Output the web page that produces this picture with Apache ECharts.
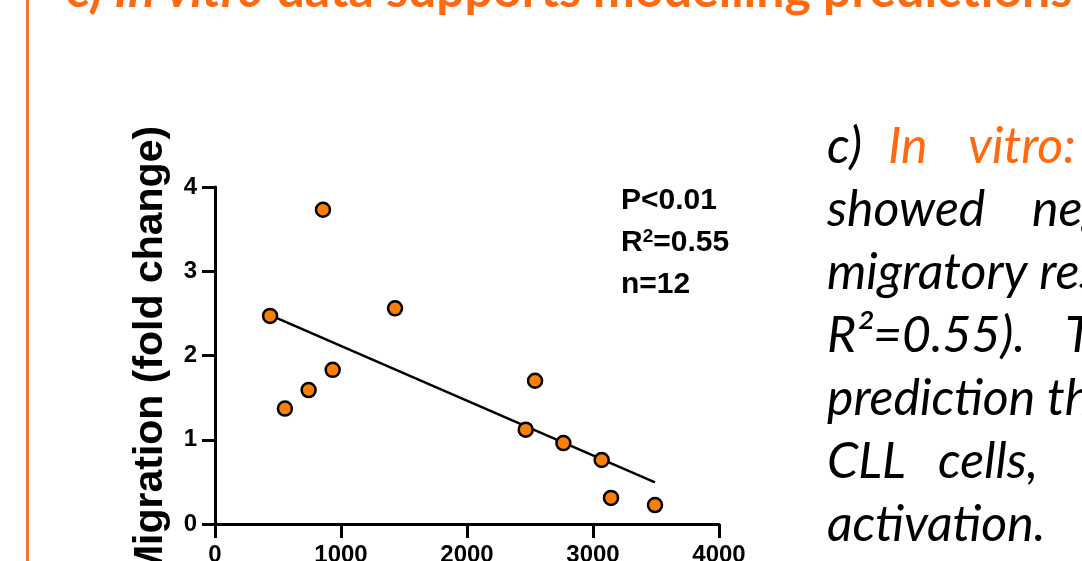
<!DOCTYPE html>
<html style="height: 100%">
    <head>
        <meta charset="utf-8">
    </head>
    <body style="height: 100%; margin: 0; background: #fff">
        <div id="container" style="width: 1082px; height: 561px"></div>

        <script type="text/javascript" src="https://cdn.jsdelivr.net/npm/echarts@6/dist/echarts.min.js"></script>
        <script type="text/javascript">
// data
var expression = [437, 857, 555, 743, 934, 1429, 2540, 2466, 2765, 3069, 3143, 3492];
var migration = [2.47, 3.73, 1.37, 1.59, 1.83, 2.56, 1.70, 1.12, 0.96, 0.76, 0.31, 0.225];
var fitX = [437, 3492];
var fitY = [2.48, 0.495];
var statLines = ['{t|P<0.01}', '{t|R}{s|2}{t|=0.55}', '{t|n=12}'];

var points = [];
for (var i = 0; i < expression.length; i++) {
    points.push([expression[i], migration[i]]);
}
var fitLine = [[fitX[0], fitY[0]], [fitX[1], fitY[1]]];

var dom = document.getElementById("container");
var myChart = echarts.init(dom);

var orange = '#FF6A10';
var bodyFont = 'Lato';
var bodySize = 50;

// paragraph on the right, one entry per word group
var words = [
    [827, 172, 'c)', '#000'], [888, 172, 'In', orange], [968, 172, 'vitro:', orange],
    [827, 235, 'showed', '#000'], [1032, 235, 'negative', '#000'],
    [827, 298, 'migratory response', '#000'],
    [827, 361, 'R\u00b2=0.55).', '#000'], [1065, 361, 'This', '#000'],
    [827, 424, 'prediction that', '#000'],
    [827, 487, 'CLL', '#000'], [938, 487, 'cells,', '#000'],
    [827, 550, 'activation.', '#000']
];

var graphics = [
    {type: 'rect', shape: {x: 26, y: 0, width: 3, height: 561}, style: {fill: '#F07A2C'}},
    {
        type: 'text', x: 65, y: 16,
        style: {
            text: '{n|c) }{i|In vitro}{n| data supports modelling predictions}',
            verticalAlign: 'bottom',
            rich: {
                n: {fontFamily: bodyFont, fontWeight: 'bold', fontSize: 50, fill: orange},
                i: {fontFamily: bodyFont, fontWeight: 'bold', fontStyle: 'italic', fontSize: 50, fill: orange}
            }
        }
    }
];
words.forEach(function (w) {
    graphics.push({
        type: 'text', x: w[0], y: w[1],
        style: {
            text: w[2], fill: w[3], fontFamily: bodyFont, fontStyle: 'italic',
            fontSize: bodySize, verticalAlign: 'bottom'
        }
    });
});
statLines.forEach(function (s, k) {
    graphics.push({
        type: 'text', x: 621, y: 217 + k * 42,
        style: {
            text: s, verticalAlign: 'bottom',
            rich: {
                t: {fill: '#000', fontFamily: 'Liberation Sans', fontWeight: 'bold', fontSize: 30, lineHeight: 32},
                s: {fill: '#000', fontFamily: 'Liberation Sans', fontWeight: 'bold', fontSize: 19, lineHeight: 32, verticalAlign: 'top'}
            }
        }
    });
});

var option = {
    animation: false,
    grid: {left: 215, top: 187, right: 363, bottom: 37, outerBoundsMode: 'none', containLabel: false},
    xAxis: {
        type: 'value', min: 0, max: 4000, interval: 1000,
        splitLine: {show: false},
        axisLine: {lineStyle: {color: '#000', width: 3}},
        axisTick: {length: 14, lineStyle: {color: '#000', width: 3}},
        axisLabel: {
            margin: 19, color: '#000', fontFamily: 'Liberation Sans', fontWeight: 'bold', fontSize: 24,
            formatter: function (v) { return String(v); }
        }
    },
    yAxis: {
        type: 'value', min: 0, max: 4, interval: 1,
        name: 'Migration (fold change)',
        nameLocation: 'middle',
        nameGap: 44,
        nameTextStyle: {color: '#000', fontFamily: 'Liberation Sans', fontWeight: 'bold', fontSize: 41, padding: [0, 0, 0, 6]},
        splitLine: {show: false},
        axisLine: {show: true, lineStyle: {color: '#000', width: 3}},
        axisTick: {show: true, length: 13, lineStyle: {color: '#000', width: 3}},
        axisLabel: {margin: 18, color: '#000', fontFamily: 'Liberation Sans', fontWeight: 'bold', fontSize: 24}
    },
    graphic: graphics,
    series: [
        {
            type: 'line',
            data: fitLine,
            symbol: 'none',
            lineStyle: {color: '#000', width: 2.5},
            z: 1
        },
        {
            type: 'scatter',
            data: points,
            symbolSize: 14,
            itemStyle: {color: '#FF8000', borderColor: '#000', borderWidth: 2.5, opacity: 1},
            z: 3
        }
    ]
};

myChart.setOption(option);
        </script>
    </body>
</html>
